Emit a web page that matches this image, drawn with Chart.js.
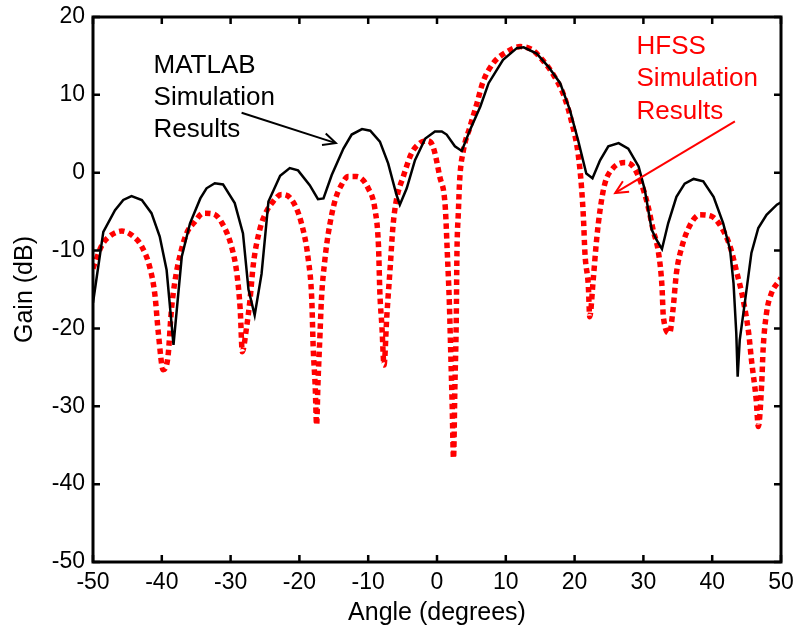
<!DOCTYPE html>
<html><head><meta charset="utf-8">
<script src="https://cdn.jsdelivr.net/npm/chart.js@4/dist/chart.umd.min.js"></script>
<style>html,body{margin:0;padding:0;background:#fff}#wrap{width:798px;height:630px;position:relative}</style>
</head><body><div id="wrap"><canvas id="c" width="798" height="630"></canvas></div>
<script>
// MATLAB simulation results (black solid)
const matlabAngle = [-50,-48.5,-46.8,-45.6,-44.4,-42.9,-41.5,-40.3,-39.3,-38.3,-37.1,-35.9,-34.4,-33.5,-32.3,-31.1,-29.4,-28.2,-27.4,-26.5,-25.5,-24.5,-22.8,-21.4,-20.2,-18.5,-17.3,-16.5,-15.3,-13.6,-12.4,-10.9,-9.7,-8.3,-7.1,-5.9,-5.4,-4.4,-3.2,-1.7,-0.3,0.7,1.4,2.6,3.6,4.8,6.3,7.5,9.6,11.6,12.6,14.5,16.2,17.9,19.3,20.5,21.7,22.6,23.7,24.9,26.4,27.8,29.3,30.2,31.2,31.9,32.7,33.6,34.8,36.0,37.3,38.7,40.2,41.6,42.6,43.1,43.5,43.7,44.0,44.8,45.7,46.7,47.9,49.4,50];
const matlabGain = [-16.7,-7.6,-4.8,-3.5,-3.0,-3.5,-5.2,-8.2,-12.5,-22.1,-10.8,-6.5,-3.3,-2.0,-1.35,-1.5,-3.9,-7.8,-15.0,-18.3,-13.0,-3.7,-0.4,0.6,0.3,-1.6,-3.4,-3.3,-0.3,3.1,4.9,5.6,5.4,4.0,1.2,-2.8,-4.1,-2.0,1.6,4.4,5.3,5.3,4.9,3.4,2.8,5.5,8.5,11.5,14.5,16.0,16.1,15.3,13.6,11.5,8.1,4.2,-0.1,-0.7,1.6,3.4,3.8,3.1,0.8,-2.2,-7.3,-8.6,-9.8,-6.5,-3.1,-1.4,-0.8,-1.1,-3.1,-6.5,-9.9,-14.2,-20.6,-26.2,-21.5,-16.3,-10.3,-7.1,-5.4,-4.1,-3.8];
// HFSS simulation results (red dotted)
const hfssAngle = [-50,-48.7,-47.5,-45.8,-44.1,-42.9,-41.7,-41.0,-40.5,-39.8,-39.1,-38.6,-38.1,-37.4,-36.4,-35.2,-34.0,-32.5,-31.1,-29.8,-29.1,-28.6,-28.3,-27.7,-27.2,-26.7,-25.7,-24.8,-24.0,-22.6,-21.1,-19.7,-18.7,-18.2,-18.0,-17.7,-17.5,-17.3,-17.0,-16.8,-16.3,-15.8,-14.8,-13.9,-12.9,-11.7,-10.0,-9.0,-8.5,-8.3,-8.0,-7.7,-7.3,-6.8,-6.4,-5.9,-4.9,-3.7,-2.5,-1.5,-0.6,0.4,1.2,1.5,1.8,2.0,2.2,2.4,2.6,2.8,2.9,3.1,3.3,3.8,4.8,5.8,6.7,8.2,10.1,12.1,13.8,15.5,16.9,18.4,19.6,20.5,21.0,21.3,21.5,22.0,22.2,22.7,23.2,23.7,24.4,25.6,27.3,28.5,29.7,30.7,31.4,32.2,32.7,32.9,33.8,34.3,34.8,35.6,36.8,38.2,39.9,41.4,42.6,43.6,44.5,45.3,45.7,46.4,46.7,47.2,47.4,47.9,48.6,49.8,50];
const hfssGain = [-12.3,-9.3,-8.1,-7.5,-8.2,-9.5,-12.3,-15.7,-20.6,-25.3,-23.6,-17.6,-14.0,-10.8,-7.8,-6.3,-5.2,-5.3,-6.7,-9.7,-12.9,-17.6,-23.0,-20.0,-16.5,-11.8,-7.1,-5.0,-3.9,-2.8,-3.5,-6.5,-11.2,-16.3,-22.3,-27.5,-32.4,-27.0,-20.6,-16.3,-11.2,-7.8,-3.5,-1.6,-0.5,-0.5,-2.0,-4.8,-9.5,-15.5,-19.8,-24.7,-18.5,-12.1,-6.9,-3.5,-0.5,2.5,3.8,4.1,3.4,-0.5,-4.4,-10.3,-16.8,-23.2,-29.6,-36.7,-27.5,-18.9,-10.3,-5.2,-0.9,2.7,5.9,8.9,11.7,14.1,15.5,16.2,15.8,14.3,12.6,10.0,6.4,2.5,-1.8,-6.1,-10.3,-14.6,-18.5,-13.8,-8.6,-4.8,-1.4,0.6,1.3,0.8,-1.4,-4.4,-7.3,-10.3,-14.6,-18.5,-20.6,-17.6,-12.9,-9.5,-6.7,-5.4,-5.6,-7.1,-9.5,-12.9,-16.3,-20.6,-24.0,-29.2,-32.6,-27.0,-22.7,-18.0,-15.5,-13.8,-13.5];
const xTicks = [-50,-40,-30,-20,-10,0,10,20,30,40,50];
const yTicks = [-50,-40,-30,-20,-10,0,10,20];
const matlabLabel = ["MATLAB","Simulation","Results"];
const hfssLabel = ["HFSS","Simulation","Results"];

const FONT = "'Liberation Sans', Arial, sans-serif";
Chart.defaults.font.family = FONT;
Chart.defaults.color = '#000';

const toPts = (xs, ys) => xs.map((x, i) => ({x: x, y: ys[i]}));

function arrow(ctx, x1, y1, x2, y2, color) {
  ctx.save();
  ctx.strokeStyle = color; ctx.lineWidth = 2;
  ctx.beginPath(); ctx.moveTo(x1, y1); ctx.lineTo(x2, y2); ctx.stroke();
  const a = Math.atan2(y2 - y1, x2 - x1), L = 14, w = 0.45;
  ctx.beginPath();
  ctx.moveTo(x2 - L * Math.cos(a - w), y2 - L * Math.sin(a - w));
  ctx.lineTo(x2, y2);
  ctx.lineTo(x2 - L * Math.cos(a + w), y2 - L * Math.sin(a + w));
  ctx.stroke();
  ctx.restore();
}

const framePlugin = {
  id: 'frame',
  afterDraw(chart) {
    const {ctx, chartArea: a, scales: {x, y}} = chart;
    ctx.save();
    ctx.strokeStyle = '#000'; ctx.lineWidth = 3;
    ctx.strokeRect(a.left, a.top, a.right - a.left, a.bottom - a.top);
    const t = 7;
    ctx.lineWidth = 2.5;
    ctx.beginPath();
    xTicks.forEach(v => {
      const px = x.getPixelForValue(v);
      ctx.moveTo(px, a.bottom); ctx.lineTo(px, a.bottom - t);
      ctx.moveTo(px, a.top); ctx.lineTo(px, a.top + t);
    });
    yTicks.forEach(v => {
      const py = y.getPixelForValue(v);
      ctx.moveTo(a.left, py); ctx.lineTo(a.left + t, py);
      ctx.moveTo(a.right, py); ctx.lineTo(a.right - t, py);
    });
    ctx.stroke();
    // annotations
    ctx.font = "26px " + FONT;
    ctx.textBaseline = 'alphabetic'; ctx.textAlign = 'left';
    ctx.fillStyle = '#000';
    const mx = x.getPixelForValue(-41.2), my = y.getPixelForValue(12.77);
    matlabLabel.forEach((s, i) => ctx.fillText(s, mx, my + i * 32));
    arrow(ctx, x.getPixelForValue(-28.4), y.getPixelForValue(7.7), x.getPixelForValue(-14.7), y.getPixelForValue(3.8), '#000');
    ctx.fillStyle = '#ff0000';
    const hx = x.getPixelForValue(29.0), hy = y.getPixelForValue(15.21);
    hfssLabel.forEach((s, i) => ctx.fillText(s, hx, hy + i * 32.2));
    arrow(ctx, x.getPixelForValue(43.3), y.getPixelForValue(6.6), x.getPixelForValue(25.9), y.getPixelForValue(-2.6), '#ff0000');
    ctx.restore();
  }
};

new Chart(document.getElementById('c'), {
  type: 'scatter',
  data: {
    datasets: [
      {label: 'MATLAB', data: toPts(matlabAngle, matlabGain), showLine: true, borderColor: '#000', borderWidth: 2.5, pointRadius: 0, tension: 0},
      {label: 'HFSS', data: toPts(hfssAngle, hfssGain), showLine: true, borderColor: '#ff0000', borderWidth: 5.5, borderDash: [5.5, 4], borderCapStyle: 'butt', pointRadius: 0, cubicInterpolationMode: 'monotone'}
    ]
  },
  options: {
    responsive: false, animation: false,
    layout: {padding: {left: 0, right: 17, top: 17, bottom: 0}},
    plugins: {legend: {display: false}, tooltip: {enabled: false}},
    scales: {
      x: {
        type: 'linear', min: -50, max: 50,
        afterBuildTicks: s => { s.ticks = xTicks.map(v => ({value: v})); },
        afterFit: s => { s.height = 68; s.paddingLeft = 0; s.paddingRight = 0; },
        grid: {display: false, drawTicks: false},
        border: {display: false},
        ticks: {font: {size: 23}, padding: 7, maxRotation: 0, autoSkip: false},
        title: {display: true, text: 'Angle (degrees)', font: {size: 25}, padding: {top: 0, bottom: 2}}
      },
      y: {
        type: 'linear', min: -50, max: 20,
        afterBuildTicks: s => { s.ticks = yTicks.map(v => ({value: v})); },
        afterFit: s => { s.width = 93; s.paddingTop = 0; s.paddingBottom = 0; },
        grid: {display: false, drawTicks: false},
        border: {display: false},
        ticks: {font: {size: 23}, padding: 8, autoSkip: false},
        title: {display: true, text: 'Gain (dB)', font: {size: 25}, padding: {top: 10, bottom: 0}}
      }
    }
  },
  plugins: [framePlugin]
});
</script></body></html>
